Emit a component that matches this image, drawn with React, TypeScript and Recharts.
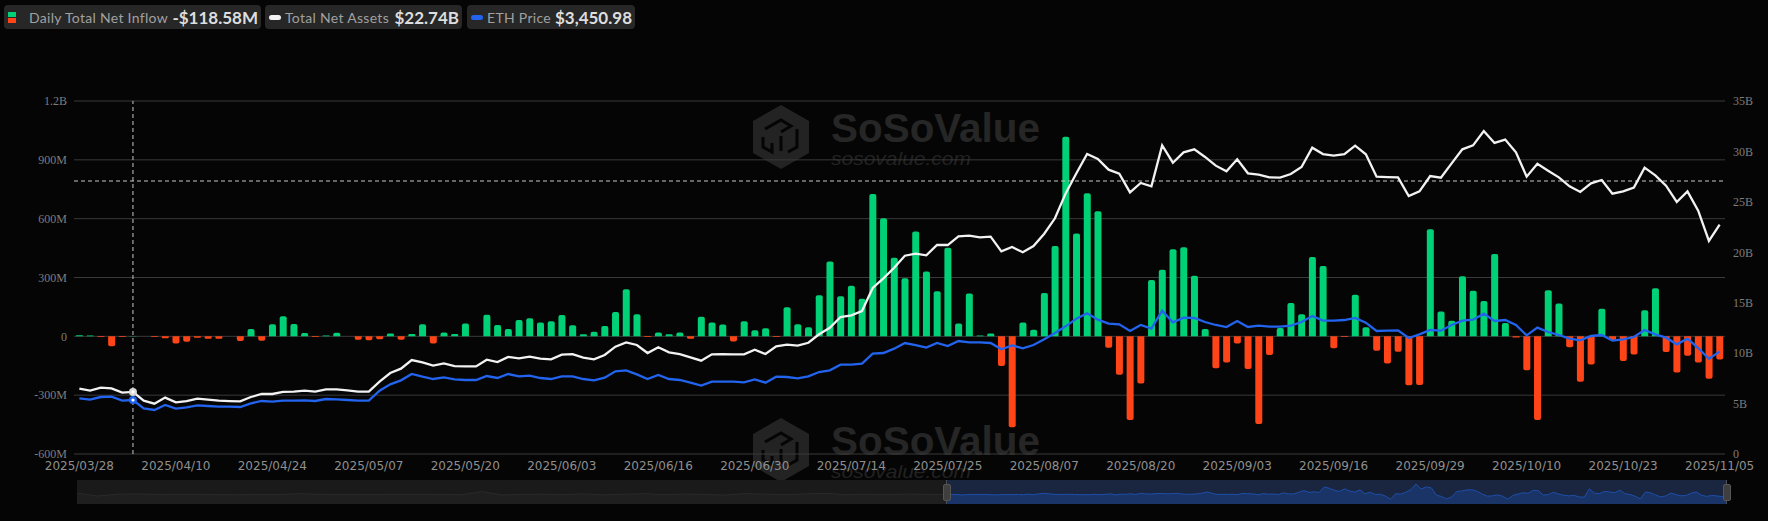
import { Area, AreaChart, Bar, CartesianGrid, Cell, ComposedChart, Line, ReferenceLine, XAxis, YAxis } from "recharts";

const dates = [
  "2025/03/28", "2025/03/31", "2025/04/01", "2025/04/02", "2025/04/03", "2025/04/04", "2025/04/07", "2025/04/08", "2025/04/09", "2025/04/10",
  "2025/04/11", "2025/04/14", "2025/04/15", "2025/04/16", "2025/04/17", "2025/04/21", "2025/04/22", "2025/04/23", "2025/04/24", "2025/04/25",
  "2025/04/28", "2025/04/29", "2025/04/30", "2025/05/01", "2025/05/02", "2025/05/05", "2025/05/06", "2025/05/07", "2025/05/08", "2025/05/09",
  "2025/05/12", "2025/05/13", "2025/05/14", "2025/05/15", "2025/05/16", "2025/05/19", "2025/05/20", "2025/05/21", "2025/05/22", "2025/05/23",
  "2025/05/27", "2025/05/28", "2025/05/29", "2025/05/30", "2025/06/02", "2025/06/03", "2025/06/04", "2025/06/05", "2025/06/06", "2025/06/09",
  "2025/06/10", "2025/06/11", "2025/06/12", "2025/06/13", "2025/06/16", "2025/06/17", "2025/06/18", "2025/06/20", "2025/06/23", "2025/06/24",
  "2025/06/25", "2025/06/26", "2025/06/27", "2025/06/30", "2025/07/01", "2025/07/02", "2025/07/03", "2025/07/07", "2025/07/08", "2025/07/09",
  "2025/07/10", "2025/07/11", "2025/07/14", "2025/07/15", "2025/07/16", "2025/07/17", "2025/07/18", "2025/07/21", "2025/07/22", "2025/07/23",
  "2025/07/24", "2025/07/25", "2025/07/28", "2025/07/29", "2025/07/30", "2025/07/31", "2025/08/01", "2025/08/04", "2025/08/05", "2025/08/06",
  "2025/08/07", "2025/08/08", "2025/08/11", "2025/08/12", "2025/08/13", "2025/08/14", "2025/08/15", "2025/08/18", "2025/08/19", "2025/08/20",
  "2025/08/21", "2025/08/22", "2025/08/25", "2025/08/26", "2025/08/27", "2025/08/28", "2025/08/29", "2025/09/02", "2025/09/03", "2025/09/04",
  "2025/09/05", "2025/09/08", "2025/09/09", "2025/09/10", "2025/09/11", "2025/09/12", "2025/09/15", "2025/09/16", "2025/09/17", "2025/09/18",
  "2025/09/19", "2025/09/22", "2025/09/23", "2025/09/24", "2025/09/25", "2025/09/26", "2025/09/29", "2025/09/30", "2025/10/01", "2025/10/02",
  "2025/10/03", "2025/10/06", "2025/10/07", "2025/10/08", "2025/10/09", "2025/10/10", "2025/10/13", "2025/10/14", "2025/10/15", "2025/10/16",
  "2025/10/17", "2025/10/20", "2025/10/21", "2025/10/22", "2025/10/23", "2025/10/24", "2025/10/27", "2025/10/28", "2025/10/29", "2025/10/30",
  "2025/10/31", "2025/11/03", "2025/11/04", "2025/11/05",
];

// daily net inflow, in millions
const inflow = [
  5, 4, -3, -50, -3, 2, 0, -3, -10, -37,
  -27, -7, -12, -12, 0, -24, 37, -22, 61, 102,
  63, 17, -3, 4, 18, 0, -17, -20, -15, 15,
  -17, 12, 61, -37, 20, 12, 65, 0, 110, 58,
  37, 83, 92, 70, 77, 109, 56, 10, 24, 53,
  124, 240, 112, -3, 20, 10, 19, -12, 100, 71,
  60, -26, 77, 31, 41, -3, 148, 61, 46, 209,
  382, 204, 258, 192, 726, 602, 401, 296, 534, 331,
  230, 452, 65, 218, 4, 15, -151, -463, 71, 34,
  221, 461, 1018, 524, 729, 638, -58, -196, -427, -240,
  287, 340, 444, 454, 309, 37, -163, -134, -37, -167,
  -447, -95, 42, 170, 112, 405, 359, -61, -3, 212,
  46, -73, -138, -78, -250, -248, 546, 126, 80, 306,
  233, 180, 420, 68, -6, -173, -427, 235, 168, -56,
  -231, -144, 141, -19, -126, -92, 133, 245, -80, -184,
  -99, -134, -216, -118.58,
];

// total net assets, in billions
const netAssets = [
  6.48, 6.28, 6.58, 6.51, 6.08, 6.15, 5.29, 4.99, 5.59, 5.12,
  5.25, 5.49, 5.39, 5.29, 5.25, 5.22, 5.65, 5.95, 5.95, 6.15,
  6.18, 6.28, 6.18, 6.41, 6.41, 6.31, 6.18, 6.18, 7.17, 8.03,
  8.46, 9.32, 9.09, 8.76, 8.99, 8.72, 8.69, 8.69, 9.35, 9.12,
  9.62, 9.48, 9.65, 9.45, 9.39, 9.85, 9.91, 9.55, 9.39, 9.82,
  10.64, 11.07, 10.81, 10.01, 10.58, 10.08, 9.91, 9.59, 9.25, 9.88,
  9.91, 9.88, 9.88, 10.34, 9.91, 10.67, 10.84, 10.74, 11.03, 11.87,
  12.52, 13.58, 13.75, 14.18, 16.46, 17.42, 18.47, 19.66, 19.86, 19.7,
  20.72, 20.72, 21.58, 21.65, 21.48, 21.55, 20.09, 20.52, 20.0, 20.62,
  21.84, 23.37, 25.84, 27.83, 29.74, 29.25, 28.19, 27.79, 25.94, 26.87,
  26.54, 30.6, 28.88, 29.91, 30.21, 29.45, 28.59, 28.03, 29.22, 27.83,
  27.7, 27.43, 27.4, 27.76, 28.45, 30.37, 29.74, 29.58, 29.74, 30.57,
  29.71, 27.5, 27.46, 27.43, 25.58, 26.04, 27.56, 27.4, 28.82, 30.21,
  30.6, 32.02, 30.84, 31.17, 29.91, 27.5, 28.78, 28.09, 27.43, 26.54,
  25.98, 26.84, 27.17, 25.81, 26.04, 26.41, 28.39, 27.63, 26.6, 24.99,
  26.04, 24.12, 21.12, 22.74,
];

const ethPrice = [
  1877, 1831, 1921, 1932, 1797, 1820, 1539, 1483, 1652, 1528,
  1573, 1640, 1618, 1596, 1596, 1585, 1708, 1787, 1764, 1797,
  1797, 1809, 1787, 1854, 1843, 1820, 1797, 1797, 2135, 2348,
  2483, 2697, 2607, 2528, 2584, 2517, 2495, 2495, 2629, 2562,
  2697, 2618, 2640, 2562, 2528, 2618, 2618, 2528, 2483, 2573,
  2787, 2820, 2685, 2528, 2663, 2528, 2495, 2405, 2304, 2438,
  2438, 2438, 2416, 2517, 2405, 2607, 2596, 2551, 2618, 2764,
  2820, 3011, 3011, 3045, 3382, 3405, 3551, 3742, 3674, 3585,
  3742, 3641, 3809, 3765, 3765, 3742, 3528, 3663, 3562, 3674,
  3866, 4079, 4304, 4562, 4742, 4529, 4393, 4371, 4147, 4349,
  4225, 4832, 4439, 4596, 4585, 4450, 4349, 4281, 4484, 4281,
  4326, 4293, 4293, 4326, 4450, 4652, 4495, 4495, 4517, 4585,
  4428, 4147, 4158, 4169, 3911, 4034, 4180, 4158, 4349, 4495,
  4529, 4731, 4484, 4517, 4349, 3999, 4259, 4113, 4012, 3888,
  3832, 3978, 4012, 3821, 3865, 3944, 4180, 4034, 3922, 3697,
  3888, 3573, 3213, 3450.98,
];

// earlier history shown only in the dimmed part of the slider, in millions
const olderInflow = [
  130, -150, 30, 60, 0, 10, 10, -20, -30, 0, 0, 80, 10, -10, 0, 0, 20, 10, 0, -30, 280, -50,
  10, 30, -20, 60, -40, 20, 80, -30, 40, 10, -60, 90, 30, -20, 50, 120, -30, 20, -10, 40, 10, -10,
];

const leftTicks = [-600, -300, 0, 300, 600, 900, 1200];
const rightTicks = [0, 5, 10, 15, 20, 25, 30, 35];
const crosshairIndex = 5;
const crosshairValue = 792;

const GREEN = "#00d176";
const RED = "#ff4517";
const WHITE = "#f2f2f2";
const BLUE = "#2264ee";

const rows = dates.map((date, i) => ({ date, inflow: inflow[i], assets: netAssets[i], eth: ethPrice[i] }));
const olderRows = olderInflow.map((v, i) => ({ i, v }));
const recentRows = inflow.map((v, i) => ({ i, v }));

const formatLeft = (v: number) => {
  if (v === 0) return "0";
  if (Math.abs(v) >= 1000) return `${v / 1000}B`;
  return `${v}M`;
};

const yTick = { fill: "#7d7d7d", fontSize: 12, fontFamily: "'Liberation Serif', serif" };

function Watermark({ top }: { top: number }) {
  return (
    <svg width={340} height={90} style={{ position: "absolute", left: 730, top }}>
      <g transform="translate(23,15)">
        <polygon points="28,0 56,16 56,48 28,64 0,48 0,16" fill="#232323" />
        <g fill="none" stroke="#050505" strokeWidth={3}>
          <polyline points="12,24 28,15 38,21 28,27" />
          <polyline points="44,24 44,42 35,47" />
          <polyline points="10,32 10,42 19,47 19,38" />
          <polyline points="28,31 28,46" />
        </g>
      </g>
      <text x={101} y={52} fill="#262626" fontFamily="'Liberation Sans', sans-serif" fontWeight={700} fontSize={41} textLength={209} lengthAdjust="spacingAndGlyphs">
        SoSoValue
      </text>
      <text x={101} y={75} fill="#222222" fontFamily="'Liberation Sans', sans-serif" fontStyle="italic" fontSize={19} textLength={140} lengthAdjust="spacingAndGlyphs">
        sosovalue.com
      </text>
    </svg>
  );
}

function Chip({ left, width, label, value, icon, labelX }: { left: number; width: number; label: string; value: string; icon: React.ReactNode; labelX: number }) {
  return (
    <div style={{ position: "absolute", left, top: 5, width, height: 24, background: "#272727", borderRadius: 4, display: "flex", alignItems: "center", fontFamily: "Lato, sans-serif", whiteSpace: "nowrap" }}>
      {icon}
      <span style={{ position: "absolute", left: labelX, color: "#a0a0a0", fontSize: 14, letterSpacing: 0.3 }}>{label}</span>
      <span style={{ position: "absolute", right: 3, color: "#dedede", fontSize: 17, fontWeight: 700 }}>{value}</span>
    </div>
  );
}

const pill = (color: string) => (
  <div style={{ position: "absolute", left: 4, top: 10, width: 12, height: 5, borderRadius: 3, background: color }} />
);

function Handle({ left }: { left: number }) {
  return (
    <>
      <div style={{ position: "absolute", left: left, top: 480, width: 1, height: 24, background: "#4a4f58" }} />
      <div style={{ position: "absolute", left: left - 3, top: 484, width: 6, height: 15, borderRadius: 2, background: "#3f3f3f", border: "1px solid #555" }} />
    </>
  );
}

function CrosshairDot({ cx, cy, index, color }: any) {
  if (index !== crosshairIndex) return <g key={index} />;
  return (
    <g key={index}>
      <circle cx={cx} cy={cy} r={4} fill={color} />
      <circle cx={cx} cy={cy} r={1.6} fill="#ffffff" />
    </g>
  );
}

export default function App() {
  return (
    <div style={{ position: "absolute", left: 0, top: 0, width: 1768, height: 521, background: "#050505", overflow: "hidden" }}>
      <Chip
        left={4}
        width={257}
        label="Daily Total Net Inflow"
        value="-$118.58M"
        labelX={25}
        icon={
          <>
            <div style={{ position: "absolute", left: 4, top: 7, width: 8, height: 5, background: GREEN }} />
            <div style={{ position: "absolute", left: 4, top: 13, width: 8, height: 5, background: RED }} />
          </>
        }
      />
      <Chip left={265} width={197} label="Total Net Assets" value="$22.74B" labelX={20} icon={pill(WHITE)} />
      <Chip left={467} width={168} label="ETH Price" value="$3,450.98" labelX={20} icon={pill(BLUE)} />

      <Watermark top={90} />
      <Watermark top={403} />

      <div style={{ position: "absolute", left: 0, top: 0 }}>
        <ComposedChart width={1768} height={521} data={rows} margin={{ top: 101, right: 0, bottom: 0, left: 0 }} barCategoryGap={0}>
          <CartesianGrid yAxisId="left" vertical={false} stroke="#3a3a3a" />
          <XAxis dataKey="date" interval={8} height={67} axisLine={false} tickLine={false} tickSize={0} tickMargin={7} tick={{ fill: "#8f8f8f", fontSize: 12, fontFamily: "'DejaVu Sans', sans-serif" }} />
          <YAxis yAxisId="left" width={74} domain={[-600, 1200]} ticks={leftTicks} tickFormatter={formatLeft} axisLine={false} tickLine={false} tickSize={0} tickMargin={7} tick={yTick} />
          <YAxis yAxisId="right" orientation="right" width={43} domain={[0, 35]} ticks={rightTicks} tickFormatter={(v: number) => (v === 0 ? "0" : `${v}B`)} axisLine={false} tickLine={false} tickSize={0} tickMargin={8} tick={yTick} />
          <YAxis yAxisId="eth" orientation="right" hide width={0} domain={[0, 11900]} />
          <ReferenceLine yAxisId="left" x={dates[crosshairIndex]} stroke="#c8c8c8" strokeDasharray="4 3" />
          <ReferenceLine yAxisId="left" y={crosshairValue} stroke="#c8c8c8" strokeDasharray="4 3" />
          <Bar yAxisId="left" dataKey="inflow" barSize={7} radius={[2, 2, 0, 0]} isAnimationActive={false}>
            {inflow.map((v, i) => (
              <Cell key={i} fill={v >= 0 ? GREEN : RED} />
            ))}
          </Bar>
          <Line yAxisId="right" dataKey="assets" type="linear" stroke={WHITE} strokeWidth={2.3} isAnimationActive={false} dot={(p: any) => <CrosshairDot {...p} color="#d8d8d8" />} />
          <Line yAxisId="eth" dataKey="eth" type="linear" stroke={BLUE} strokeWidth={2.3} isAnimationActive={false} dot={(p: any) => <CrosshairDot {...p} color={BLUE} />} />
        </ComposedChart>
      </div>

      <div style={{ position: "absolute", left: 77, top: 480, width: 870, height: 24, background: "#1a1a1a" }}>
        <AreaChart width={870} height={24} data={olderRows} margin={{ top: 0, right: 0, bottom: 0, left: 0 }}>
          <XAxis dataKey="i" hide />
          <YAxis hide domain={[-920, 1400]} />
          <Area dataKey="v" type="linear" baseValue={-920} stroke="#2a2a2a" strokeWidth={1} fill="#1f1f1f" fillOpacity={1} isAnimationActive={false} dot={false} />
        </AreaChart>
      </div>
      <div style={{ position: "absolute", left: 947, top: 480, width: 780, height: 24, background: "#1a2640" }}>
        <AreaChart width={780} height={24} data={recentRows} margin={{ top: 0, right: 0, bottom: 0, left: 0 }}>
          <XAxis dataKey="i" hide />
          <YAxis hide domain={[-920, 1400]} />
          <Area dataKey="v" type="linear" baseValue={-920} stroke="#1d4ea8" strokeWidth={1} fill="#1a3468" fillOpacity={1} isAnimationActive={false} dot={false} />
        </AreaChart>
      </div>
      <Handle left={946} />
      <Handle left={1726} />
    </div>
  );
}
